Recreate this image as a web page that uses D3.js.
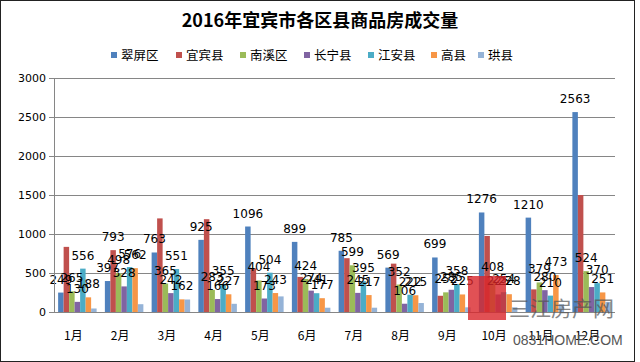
<!DOCTYPE html>
<html>
<head>
<meta charset="utf-8">
<script src="https://cdn.jsdelivr.net/npm/d3@7"></script>
<style>
	body { margin: 0; background: #fff; }
	svg { display: block; font-family: 'DejaVu Sans', sans-serif; }
</style>
</head>
<body>
<div class="graphic"></div>
<script>
const months = ['1月', '2月', '3月', '4月', '5月', '6月', '7月', '8月', '9月', '10月', '11月', '12月']
const seriesNames = ['翠屏区', '宜宾县', '南溪区', '长宁县', '江安县', '高县', '珙县']
const colors = ['#4f81bd', '#c0504d', '#9bbb59', '#8064a2', '#4bacc6', '#f79646', '#95b3d7']

const cuiping = [249, 397, 763, 925, 1096, 899, 785, 569, 699, 1276, 1210, 2563]
const yibin = [835, 793, 1200, 1190, 560, 450, 690, 620, 208, 975, 290, 1500]
const nanxi = [265, 498, 365, 283, 404, 424, 599, 352, 252, 408, 379, 524]
const changning = [130, 328, 242, 166, 173, 274, 245, 106, 285, 225, 280, 320]
const jiangan = [556, 576, 551, 355, 504, 241, 395, 222, 358, 254, 210, 370]
const gaoxian = [188, 562, 162, 227, 243, 177, 217, 215, 225, 228, 473, 251]
const gongxian = [45, 100, 160, 105, 200, 55, 55, 115, 60, 60, 100, 130]

const yTicks = [0, 500, 1000, 1500, 2000, 2500, 3000]

// month indexes whose value label is not visible in the original
const hiddenLabels = {
	'宜宾县': [0, 2, 3, 4, 5, 6, 7, 8, 9, 10, 11],
	'长宁县': [11],
	'珙县': [0, 1, 2, 3, 4, 5, 6, 7, 8, 9, 10, 11],
}

const allValues = [cuiping, yibin, nanxi, changning, jiangan, gaoxian, gongxian]
const rows = months.map((m, i) => ({
	month: m,
	values: seriesNames.map((s, j) => ({ key: s, i, value: allValues[j][i] })),
}))

const W = 640
const H = 362
const plot = { left: 54, right: 615, top: 78, bottom: 312 }

const svg = d3.select('.graphic').append('svg')
	.attr('width', W)
	.attr('height', H)

svg.append('rect')
	.attr('x', 0.5).attr('y', 0.5)
	.attr('width', 634).attr('height', H - 1)
	.attr('fill', '#fff')
	.attr('stroke', '#222')

const x0 = d3.scaleBand()
	.domain(months)
	.range([plot.left, plot.right])

const x1 = d3.scaleBand()
	.domain(seriesNames)
	.range([0, x0.bandwidth()])
	.paddingOuter(0.75)

const y = d3.scaleLinear()
	.domain([0, 3000])
	.range([plot.bottom, plot.top])

const color = d3.scaleOrdinal().domain(seriesNames).range(colors)

// title
svg.append('text')
	.attr('x', 320)
	.attr('y', 27)
	.attr('text-anchor', 'middle')
	.style('font-family', "'Noto Sans CJK SC', sans-serif")
	.style('font-weight', 'bold')
	.style('font-size', '18px')
	.text('2016年宜宾市各区县商品房成交量')

// legend
const legendX = [111, 176, 240, 304, 368, 431, 478]
const legend = svg.append('g').attr('class', 'legend')
	.selectAll('g')
	.data(seriesNames)
	.enter().append('g')
		.attr('transform', (d, i) => `translate(${legendX[i]},55)`)

legend.append('rect')
	.attr('x', 0).attr('y', -3)
	.attr('width', 6).attr('height', 6)
	.attr('fill', d => color(d))

legend.append('text')
	.attr('x', 10)
	.attr('y', 5)
	.style('font-family', "'Noto Sans CJK SC', sans-serif")
	.style('font-size', '12.5px')
	.text(d => d)

// grid + y axis
const yAxis = svg.append('g')
	.attr('class', 'axis axis--y')
	.attr('transform', `translate(${plot.left},0)`)
	.call(d3.axisLeft(y).tickValues(yTicks).tickFormat(d3.format('d')).tickSize(5).tickPadding(3))

yAxis.select('.domain').remove()
yAxis.selectAll('line').attr('stroke', '#868686')
yAxis.selectAll('text')
	.style('font-size', '11px')
	.style('font-family', "'DejaVu Sans', sans-serif")
	.attr('fill', '#000')

svg.append('g')
	.attr('class', 'grid')
	.selectAll('line')
	.data(yTicks.slice(1))
	.enter().append('line')
		.attr('x1', plot.left).attr('x2', plot.right)
		.attr('y1', d => Math.round(y(d)) + 0.5)
		.attr('y2', d => Math.round(y(d)) + 0.5)
		.attr('stroke', '#868686')

// bars
const group = svg.append('g')
	.selectAll('g')
	.data(rows)
	.enter().append('g')
		.attr('transform', d => `translate(${x0(d.month)},0)`)

group.selectAll('rect')
	.data(d => d.values)
	.enter().append('rect')
		.attr('x', d => x1(d.key))
		.attr('y', d => y(d.value))
		.attr('width', x1.bandwidth())
		.attr('height', d => y(0) - y(d.value))
		.attr('fill', d => color(d.key))

// axes lines
svg.append('line')
	.attr('x1', plot.left + 0.5).attr('x2', plot.left + 0.5)
	.attr('y1', plot.top).attr('y2', plot.bottom)
	.attr('stroke', '#868686')

svg.append('line')
	.attr('x1', plot.left).attr('x2', plot.right)
	.attr('y1', plot.bottom + 0.5).attr('y2', plot.bottom + 0.5)
	.attr('stroke', '#868686')

// month labels
svg.append('g')
	.selectAll('text')
	.data(months)
	.enter().append('text')
		.attr('x', d => x0(d) + x0.bandwidth() / 2 - 4)
		.attr('y', 340)
		.attr('text-anchor', 'middle')
		.style('font-family', "'Noto Sans CJK SC', sans-serif")
		.style('font-size', '12px')
		.text(d => d)

// value labels
group.selectAll('text')
	.data(d => d.values.filter(v => !(hiddenLabels[v.key] || []).includes(v.i)))
	.enter().append('text')
		.attr('x', d => x1(d.key) + x1.bandwidth() / 2)
		.attr('y', d => y(d.value) - 9)
		.attr('text-anchor', 'middle')
		.style('font-size', '12px')
		.attr('fill', '#000')
		.text(d => d.value)

// watermark
const mark = svg.append('g').attr('class', 'watermark')
mark.append('rect')
	.attr('x', 468).attr('y', 276)
	.attr('width', 38).attr('height', 44)
	.attr('fill', '#d9252b')
	.attr('opacity', 0.8)
mark.append('text')
	.attr('x', 509).attr('y', 316)
	.style('font-family', "'Noto Sans CJK SC', sans-serif")
	.style('font-size', '21px')
	.attr('fill', '#555')
	.attr('opacity', 0.7)
	.text('三江房产网')
mark.append('text')
	.attr('x', 513).attr('y', 345)
	.style('font-family', "'Liberation Sans Narrow', 'Liberation Sans', sans-serif")
	.style('font-size', '14px')
	.attr('fill', '#555')
	.text('0831HOME.COM')
</script>
</body>
</html>
